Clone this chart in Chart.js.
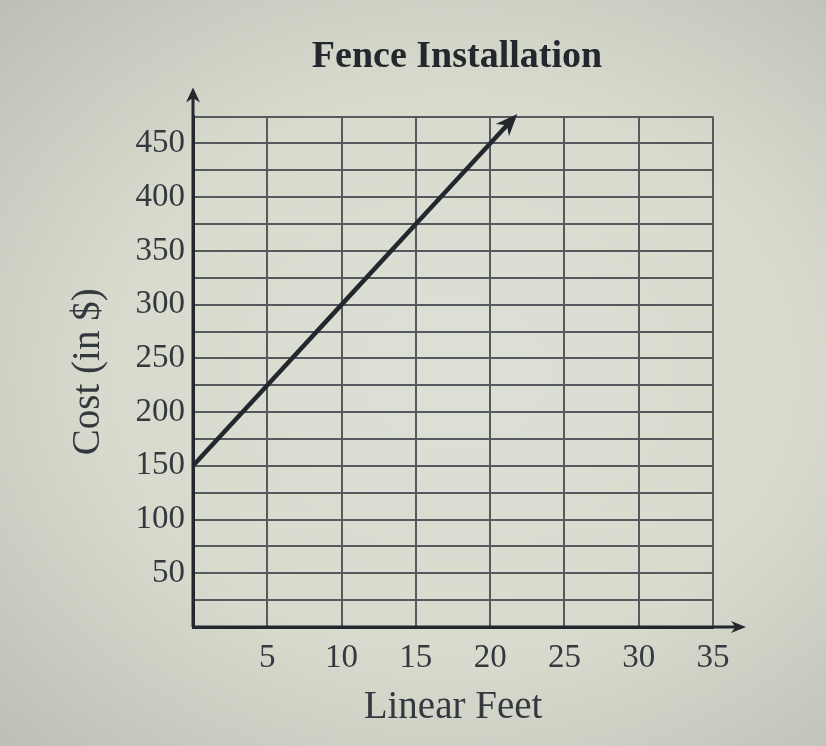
<!DOCTYPE html>
<html>
<head>
<meta charset="utf-8">
<title>Fence Installation</title>
<script src="https://cdn.jsdelivr.net/npm/chart.js@4/dist/chart.umd.min.js"></script>
<style>
  html, body { margin: 0; padding: 0; }
  body {
    width: 826px; height: 746px; overflow: hidden;
    background: radial-gradient(ellipse at 55% 50%, #dde0d4 0%, #d7dacd 55%, #bcbfb3 100%);
  }
  #wrap { position: relative; width: 826px; height: 746px; }
</style>
</head>
<body>
<div id="wrap"><canvas id="chart" width="826" height="746"></canvas></div>
<script>
// data
const feet = [0, 5, 10, 15, 20, 21.6];
const cost = [150, 225, 300, 375, 450, 474];
const xTicks = [5, 10, 15, 20, 25, 30, 35];
const yTicks = [50, 100, 150, 200, 250, 300, 350, 400, 450];

const ink = '#23272e';
const labelInk = '#34383f';
const gridInk = '#565a5f';
const serif = "'Liberation Serif', 'DejaVu Serif', serif";

// arrows on the axes and on the end of the line
const arrowPlugin = {
    id: 'arrows',
    afterLayout(chart) {
        // centre the title over the grid, as in the print
        chart.titleBlock.left = 201;
        chart.titleBlock.right = chart.chartArea.right;
    },
    afterDraw(chart) {
        const ctx = chart.ctx;
        const a = chart.chartArea;
        const head = (x, y, ang, len, w) => {
            ctx.save();
            ctx.translate(x, y);
            ctx.rotate(ang);
            ctx.beginPath();
            ctx.moveTo(0, 0);
            ctx.lineTo(-len, -w);
            ctx.lineTo(-len * 0.7, 0);
            ctx.lineTo(-len, w);
            ctx.closePath();
            ctx.fill();
            ctx.restore();
        };
        ctx.save();
        ctx.strokeStyle = ink;
        ctx.fillStyle = ink;
        ctx.lineWidth = 3;
        // y axis runs past the top
        ctx.beginPath();
        ctx.moveTo(a.left, a.bottom);
        ctx.lineTo(a.left, a.top - 22);
        ctx.stroke();
        head(a.left, a.top - 29, -Math.PI / 2, 15, 7);
        // x axis runs past the right end
        ctx.beginPath();
        ctx.moveTo(a.left, a.bottom);
        ctx.lineTo(a.right + 26, a.bottom);
        ctx.stroke();
        head(a.right + 33, a.bottom, 0, 15, 6);
        // arrow head at the end of the line
        const pts = chart.getDatasetMeta(0).data;
        const p1 = pts[pts.length - 2], p2 = pts[pts.length - 1];
        const ang = Math.atan2(p2.y - p1.y, p2.x - p1.x);
        head(p2.x + Math.cos(ang) * 5, p2.y + Math.sin(ang) * 5, ang, 22, 9);
        ctx.restore();
    }
};

new Chart(document.getElementById('chart'), {
    type: 'line',
    data: {
        datasets: [{
            data: feet.map((f, i) => ({ x: f, y: cost[i] })),
            borderColor: ink,
            borderWidth: 4.5,
            pointRadius: 0,
            tension: 0,
            fill: false,
            clip: false
        }]
    },
    options: {
        responsive: false,
        animation: false,
        layout: { padding: { left: 0, right: 113, top: 0, bottom: 0 } },
        plugins: {
            legend: { display: false },
            tooltip: { enabled: false },
            title: {
                display: true,
                text: 'Fence Installation',
                color: ink,
                font: { family: serif, size: 38, weight: 'bold' },
                padding: { top: 34, bottom: 37 }
            }
        },
        scales: {
            x: {
                type: 'linear',
                min: 0,
                max: 35,
                afterFit(scale) { scale.height = 119; },
                afterBuildTicks(scale) {
                    scale.ticks = [0].concat(xTicks).map(v => ({ value: v }));
                },
                ticks: {
                    autoSkip: false,
                    maxRotation: 0,
                    padding: 12,
                    color: labelInk,
                    font: { family: serif, size: 33 },
                    callback: v => (xTicks.includes(v) ? String(v) : '')
                },
                grid: { color: gridInk, lineWidth: 2, drawTicks: false },
                border: { color: ink, width: 3 },
                title: {
                    display: true,
                    text: 'Linear Feet',
                    color: labelInk,
                    font: { family: serif, size: 39 },
                    padding: { top: 0, bottom: 15 }
                }
            },
            y: {
                type: 'linear',
                min: 0,
                max: 475,
                afterFit(scale) { scale.width = 193; },
                ticks: {
                    stepSize: 25,
                    autoSkip: false,
                    padding: 8,
                    color: labelInk,
                    font: { family: serif, size: 33 },
                    callback: v => (yTicks.includes(v) ? String(v) : '')
                },
                grid: { color: gridInk, lineWidth: 2, drawTicks: false },
                border: { color: ink, width: 3 },
                title: {
                    display: true,
                    text: 'Cost (in $)',
                    color: labelInk,
                    font: { family: serif, size: 39 },
                    padding: { top: 65, bottom: 0 }
                }
            }
        }
    },
    plugins: [arrowPlugin]
});
</script>
</body>
</html>
